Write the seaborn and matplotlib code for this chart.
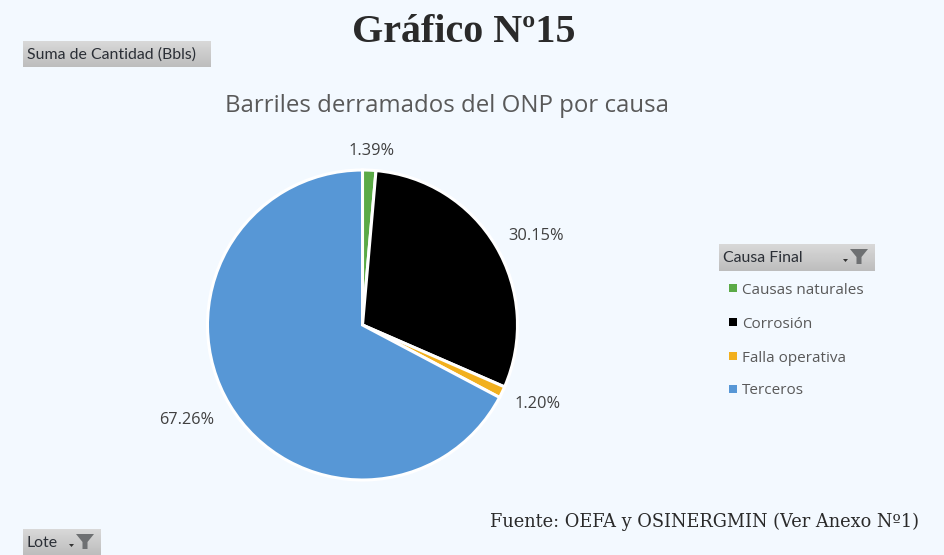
import os

os.environ.setdefault("MPLBACKEND", "Agg")

import matplotlib.pyplot as plt
import numpy as np
import pandas as pd
import seaborn as sns

CAUSES = ["Causas naturales", "Corrosión", "Falla operativa", "Terceros"]
SHARES = [1.39, 30.15, 1.20, 67.26]
COLORS = ["#5BAA46", "#000000", "#F2B01E", "#5797D6"]
PIE_LABELS = ["1.39%", "30.15%", "1.20%", "67.26%"]
LABEL_XY = [(372, 151), (536, 236), (538, 404), (187, 420)]
LEGEND_Y = [290, 324, 358, 391]

BG = "#F3F9FF"
W, H = 945, 555


def button(ax, x0, y0, x1, y1, text, funnel=False):
    grad = np.linspace(0.85, 0.74, 30).reshape(-1, 1)
    ax.imshow(grad, cmap="gray", vmin=0, vmax=1, extent=(x0, x1, y1, y0), aspect="auto", zorder=2)
    ax.text(x0 + 4, (y0 + y1) / 2 + 1, text, fontsize=11.4, color="#2B2F36", ha="left", va="center",
            family="Lato", zorder=3)
    if funnel:
        fx = x1 - 16
        cy = y0 + 5
        ax.fill([fx - 9, fx + 9, fx + 2.5, fx + 2.5, fx - 2.5, fx - 2.5],
                [cy, cy, cy + 8, cy + 15, cy + 15, cy + 8], color="#6E7072", lw=0, zorder=3)
        ax.fill([fx - 16, fx - 11, fx - 13.5], [cy + 10, cy + 10, cy + 13], color="#333333", lw=0, zorder=3)


def main():
    sns.set_theme(style="white")
    plt.rcParams["font.family"] = ["Open Sans", "DejaVu Sans"]

    df = pd.DataFrame({"cause": CAUSES, "share": SHARES})

    fig = plt.figure(figsize=(W / 100, H / 100), dpi=100, facecolor=BG)

    overlay = fig.add_axes([0, 0, 1, 1], zorder=1)
    overlay.set_xlim(0, W)
    overlay.set_ylim(H, 0)
    overlay.axis("off")

    R = 155
    cx, cy = 362.5, 325
    pie_ax = fig.add_axes([(cx - R) / W, 1 - (cy + R) / H, 2 * R / W, 2 * R / H], zorder=2)
    pie_ax.pie(
        df["share"],
        colors=COLORS,
        startangle=90,
        counterclock=False,
        radius=1.0,
        wedgeprops={"edgecolor": "white", "linewidth": 2.2},
    )
    pie_ax.set_xlim(-1, 1)
    pie_ax.set_ylim(-1, 1)

    for label, (x, y) in zip(PIE_LABELS, LABEL_XY):
        overlay.text(x, y, label, fontsize=11.8, color="#404040", ha="center", va="center")

    fig.text(464 / W, 1 - 32 / H, "Gráfico Nº15", fontsize=28.8, fontweight="bold",
             family="Liberation Serif", color="#2A2A2A", ha="center", va="center")
    fig.text(447 / W, 1 - 106 / H, "Barriles derramados del ONP por causa", fontsize=17.3,
             color="#595959", ha="center", va="center")
    fig.text(919 / W, 1 - 522 / H, "Fuente: OEFA y OSINERGMIN (Ver Anexo Nº1)", fontsize=12.8,
             family="DejaVu Serif", color="#2A2A2A", ha="right", va="center")

    button(overlay, 23, 41, 211, 67, "Suma de Cantidad (Bbls)")
    button(overlay, 719, 244, 875, 271, "Causa Final", funnel=True)
    button(overlay, 23, 529, 101, 555, "Lote", funnel=True)

    for cause, color, y in zip(CAUSES, COLORS, LEGEND_Y):
        overlay.scatter([732.5], [y - 2], s=30, marker="s", color=color, linewidths=0, zorder=3)
        overlay.text(742, y, cause, fontsize=11.0, color="#595959", ha="left", va="center")

    overlay.set_xlim(0, W)
    overlay.set_ylim(H, 0)
    fig.savefig("out.png", dpi=100, facecolor=BG)


if __name__ == "__main__":
    main()
